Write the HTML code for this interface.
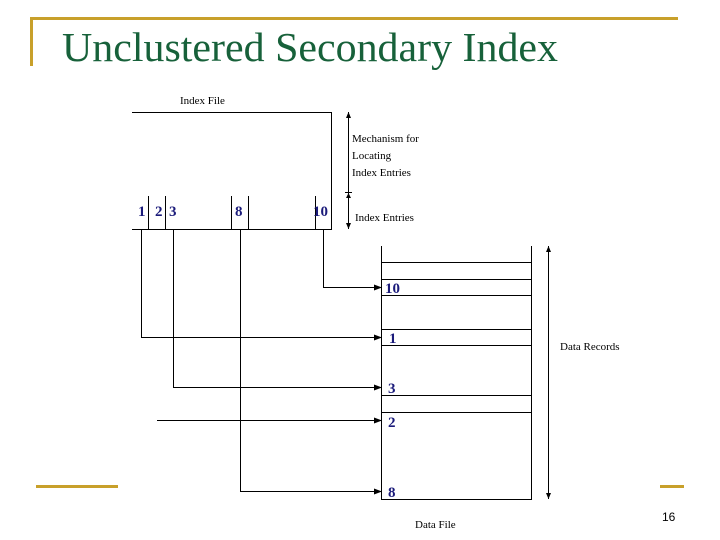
<!DOCTYPE html>
<html><head><meta charset="utf-8"><style>
html,body{margin:0;padding:0;background:#fff;}
svg{display:block;}
</style></head><body>
<svg width="720" height="540" viewBox="0 0 720 540" xmlns="http://www.w3.org/2000/svg">
<defs>
<marker id="ah" markerWidth="8" markerHeight="6" refX="7" refY="3" orient="auto" markerUnits="userSpaceOnUse">
<path d="M0,0 L8,3 L0,6 z" fill="#000"/>
</marker>
</defs>
<line x1="30" y1="18.5" x2="678" y2="18.5" stroke="#c8a02a" stroke-width="3"/>
<line x1="31.5" y1="18" x2="31.5" y2="66" stroke="#c8a02a" stroke-width="3"/>
<line x1="36" y1="486.5" x2="118" y2="486.5" stroke="#c8a02a" stroke-width="3"/>
<line x1="660" y1="486.5" x2="684" y2="486.5" stroke="#c8a02a" stroke-width="3"/>
<text x="62" y="61" font-family="Liberation Serif, serif" font-size="41" fill="#17613a" textLength="496" lengthAdjust="spacingAndGlyphs">Unclustered Secondary Index</text>

<g stroke="#000" stroke-width="1" fill="none">
<polyline points="132,112.5 331.5,112.5 331.5,229"/>
<line x1="132" y1="229.5" x2="332" y2="229.5"/>
<line x1="148.5" y1="196" x2="148.5" y2="229"/>
<line x1="165.5" y1="196" x2="165.5" y2="229"/>
<line x1="231.5" y1="196" x2="231.5" y2="229"/>
<line x1="248.5" y1="196" x2="248.5" y2="229"/>
<line x1="315.5" y1="196" x2="315.5" y2="229"/>
<line x1="348.5" y1="112" x2="348.5" y2="229"/>
<line x1="345" y1="192.5" x2="352" y2="192.5"/>
<polyline points="141.5,229 141.5,337.5 381,337.5" marker-end="url(#ah)"/>
<polyline points="173.5,229 173.5,387.5 381,387.5" marker-end="url(#ah)"/>
<polyline points="240.5,229 240.5,491.5 381,491.5" marker-end="url(#ah)"/>
<polyline points="323.5,229 323.5,287.5 381,287.5" marker-end="url(#ah)"/>
<line x1="157" y1="420.5" x2="381" y2="420.5" marker-end="url(#ah)"/>
<polyline points="381.5,246 381.5,499.5 531.5,499.5 531.5,246"/>
<line x1="381" y1="262.5" x2="531" y2="262.5"/>
<line x1="381" y1="279.5" x2="531" y2="279.5"/>
<line x1="381" y1="295.5" x2="531" y2="295.5"/>
<line x1="381" y1="329.5" x2="531" y2="329.5"/>
<line x1="381" y1="345.5" x2="531" y2="345.5"/>
<line x1="381" y1="395.5" x2="531" y2="395.5"/>
<line x1="381" y1="412.5" x2="531" y2="412.5"/>
<line x1="548.5" y1="246" x2="548.5" y2="499"/>
</g>
<path d="M346,118 L348.5,112 L351,118 z M346,223 L348.5,229 L351,223 z M346,198 L348.5,193 L351,198 z M546,252 L548.5,246 L551,252 z M546,493 L548.5,499 L551,493 z" fill="#000"/>

<g font-family="Liberation Serif, serif" fill="#000" font-size="11">
<text x="180" y="104">Index File</text>
<text x="352" y="142">Mechanism for</text>
<text x="352" y="159">Locating</text>
<text x="352" y="176">Index Entries</text>
<text x="355" y="221">Index Entries</text>
<text x="560" y="350">Data Records</text>
<text x="415" y="528">Data File</text>
</g>
<g font-family="Liberation Serif, serif" fill="#1a1a7a" font-size="15" font-weight="bold">
<text x="138" y="216">1</text>
<text x="155" y="216">2</text>
<text x="169" y="216">3</text>
<text x="235" y="216">8</text>
<text x="313" y="216">10</text>
<text x="385" y="293">10</text>
<text x="389" y="343">1</text>
<text x="388" y="393">3</text>
<text x="388" y="427">2</text>
<text x="388" y="497">8</text>
</g>
<text x="662" y="521" font-family="Liberation Sans, sans-serif" font-size="12" fill="#000">16</text>
</svg>
</body></html>
